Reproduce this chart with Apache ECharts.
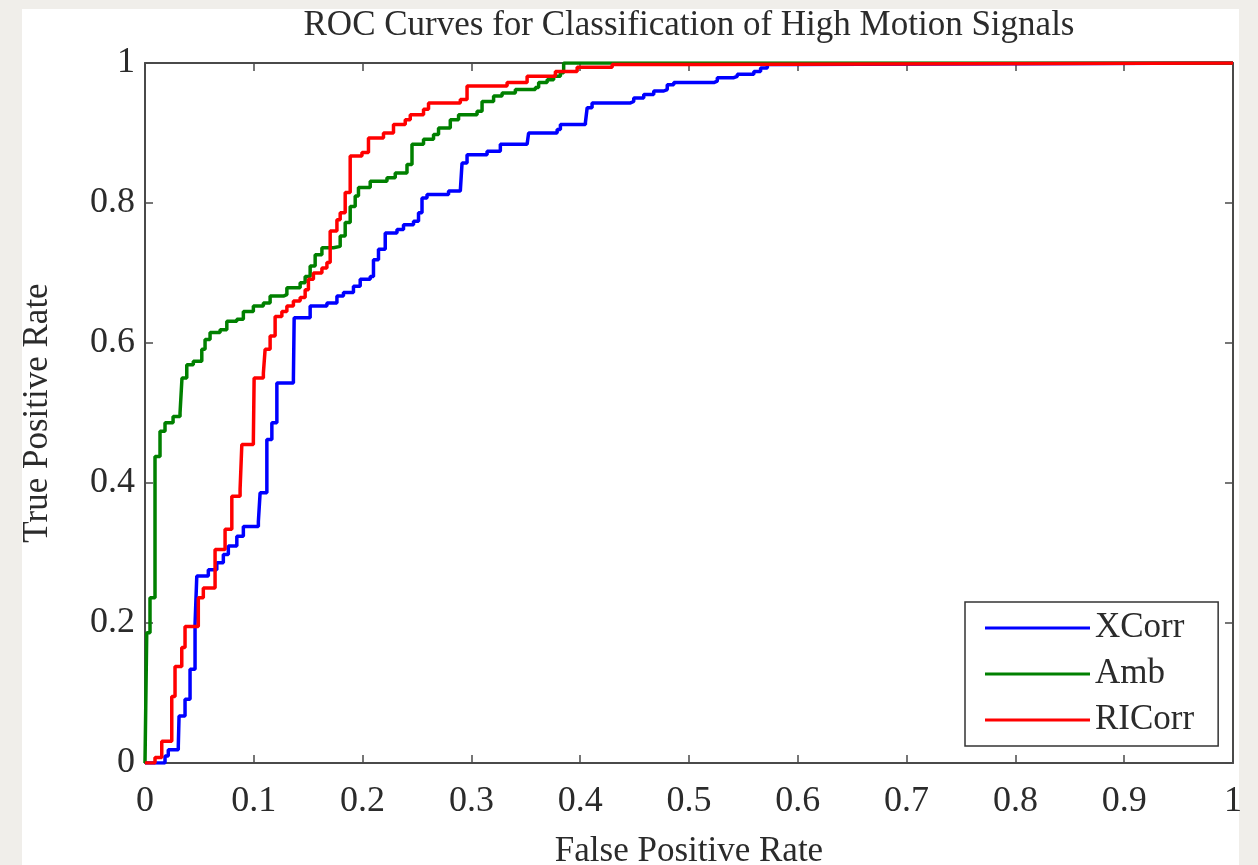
<!DOCTYPE html>
<html>
<head>
<meta charset="utf-8">
<script src="https://cdn.jsdelivr.net/npm/echarts@6/dist/echarts.min.js"></script>
<style>
html,body{margin:0;padding:0;background:#f0eeea;overflow:hidden;}
#chart{width:1258px;height:865px;}
</style>
</head>
<body>
<div id="chart"></div>
<script>
// ---- data ----
const titleText = 'ROC Curves for Classification of High Motion Signals';
const xName = 'False Positive Rate';
const yName = 'True Positive Rate';
const seriesNames = ['XCorr', 'Amb', 'RICorr'];

const xcorrFPR = [0, 0.0092, 0.0184, 0.0214, 0.0306, 0.0313, 0.0368, 0.0414, 0.046, 0.0476, 0.0582, 0.066, 0.072, 0.0766, 0.0844, 0.0904, 0.1042, 0.1058, 0.112, 0.1166, 0.1212, 0.1364, 0.1371, 0.1518, 0.1672, 0.1764, 0.1824, 0.1916, 0.1978, 0.207, 0.21, 0.2146, 0.2208, 0.2316, 0.2376, 0.2468, 0.2514, 0.2546, 0.2592, 0.279, 0.2898, 0.2914, 0.296, 0.3144, 0.3266, 0.3512, 0.3526, 0.3788, 0.3818, 0.4048, 0.4064, 0.4109, 0.4462, 0.4492, 0.4584, 0.4676, 0.4768, 0.48, 0.486, 0.5228, 0.526, 0.5412, 0.5444, 0.5596, 0.5658, 0.572, 0.5904, 1];
const xcorrTPR = [0, 0, 0.010, 0.019, 0.024, 0.067, 0.091, 0.134, 0.198, 0.267, 0.276, 0.286, 0.298, 0.310, 0.324, 0.338, 0.345, 0.386, 0.462, 0.486, 0.543, 0.550, 0.636, 0.653, 0.657, 0.667, 0.672, 0.681, 0.691, 0.695, 0.719, 0.734, 0.757, 0.762, 0.769, 0.774, 0.786, 0.807, 0.812, 0.817, 0.819, 0.857, 0.869, 0.874, 0.884, 0.886, 0.900, 0.905, 0.912, 0.915, 0.936, 0.943, 0.945, 0.950, 0.955, 0.960, 0.962, 0.969, 0.972, 0.974, 0.979, 0.981, 0.984, 0.988, 0.993, 0.998, 1, 1];

const ambFPR = [0, 0.0016, 0.0046, 0.0092, 0.0138, 0.0184, 0.0258, 0.0322, 0.034, 0.0384, 0.0444, 0.0522, 0.0552, 0.0598, 0.069, 0.0752, 0.0844, 0.0904, 0.0996, 0.1088, 0.115, 0.1272, 0.1304, 0.1426, 0.1472, 0.1518, 0.1564, 0.1626, 0.1732, 0.1794, 0.184, 0.1886, 0.1932, 0.1962, 0.207, 0.2224, 0.23, 0.2408, 0.2454, 0.256, 0.2652, 0.2698, 0.2806, 0.2882, 0.3052, 0.3098, 0.3204, 0.3282, 0.3404, 0.3588, 0.3618, 0.3696, 0.3756, 0.3818, 0.3848, 1];
const ambTPR = [0, 0.186, 0.236, 0.438, 0.474, 0.486, 0.495, 0.500, 0.550, 0.569, 0.574, 0.591, 0.605, 0.615, 0.619, 0.631, 0.634, 0.645, 0.653, 0.657, 0.667, 0.669, 0.679, 0.686, 0.695, 0.710, 0.726, 0.736, 0.738, 0.753, 0.772, 0.795, 0.810, 0.822, 0.831, 0.836, 0.843, 0.855, 0.884, 0.891, 0.898, 0.907, 0.919, 0.926, 0.931, 0.945, 0.953, 0.957, 0.962, 0.965, 0.972, 0.976, 0.981, 0.986, 1, 1];

const ricorrFPR = [0, 0.0092, 0.0154, 0.0246, 0.0276, 0.0338, 0.0368, 0.049, 0.0536, 0.0644, 0.0736, 0.0798, 0.0874, 0.089, 0.0996, 0.1003, 0.1088, 0.1104, 0.115, 0.1196, 0.1258, 0.1304, 0.1364, 0.1426, 0.1472, 0.1502, 0.1548, 0.1626, 0.1672, 0.1702, 0.1764, 0.1794, 0.184, 0.1886, 0.1994, 0.2054, 0.2192, 0.2284, 0.2392, 0.2438, 0.256, 0.2606, 0.2898, 0.296, 0.3328, 0.3512, 0.3772, 0.3972, 0.4294, 0.5106, 1];
const ricorrTPR = [0, 0.008, 0.031, 0.095, 0.138, 0.165, 0.195, 0.236, 0.250, 0.305, 0.334, 0.381, 0.391, 0.455, 0.462, 0.550, 0.557, 0.591, 0.610, 0.638, 0.645, 0.653, 0.660, 0.665, 0.676, 0.691, 0.700, 0.707, 0.715, 0.760, 0.776, 0.786, 0.815, 0.867, 0.872, 0.893, 0.900, 0.912, 0.919, 0.926, 0.934, 0.943, 0.948, 0.967, 0.972, 0.981, 0.988, 0.994, 0.998, 1, 1];

const xTicks = ['0', '0.1', '0.2', '0.3', '0.4', '0.5', '0.6', '0.7', '0.8', '0.9', '1'];
const yTicks = ['0', '0.2', '0.4', '0.6', '0.8', '1'];

// ---- build ----
function zip(a, b) { return a.map((v, i) => [v, b[i]]); }
const FONT = '"Liberation Serif", "DejaVu Serif", serif';
const TXT = '#2b2b2b';
const AX = '#4a4a4a';
const colors = ['#0000ff', '#008000', '#ff0000'];
const datasets = [zip(xcorrFPR, xcorrTPR), zip(ambFPR, ambTPR), zip(ricorrFPR, ricorrTPR)];

const chart = echarts.init(document.getElementById('chart'), null, {renderer: 'canvas', width: 1258, height: 865});

const axisCommon = {
  min: 0, max: 1,
  axisLine: {show: true, onZero: false, lineStyle: {color: AX, width: 2}},
  axisTick: {show: true, inside: true, length: 8, lineStyle: {color: AX, width: 1.5}},
  splitLine: {show: false},
};

chart.setOption({
  backgroundColor: '#f0eeea',
  animation: false,
  graphic: [
    {type: 'rect', left: 22, top: 9, z: -10, silent: true,
     shape: {width: 1217, height: 860}, style: {fill: '#ffffff'}},
    {type: 'text', x: 689, y: 8, z: 10, silent: true,
     style: {text: titleText, font: '35px ' + FONT, fill: TXT, textAlign: 'center', textVerticalAlign: 'top'}}
  ],
  grid: {left: 145, width: 1088, top: 63, height: 700, containLabel: false, outerBoundsMode: 'none'},
  legend: {
    data: seriesNames,
    orient: 'vertical',
    left: 965, top: 602,
    backgroundColor: '#ffffff',
    borderColor: '#333333', borderWidth: 1.5,
    padding: [8, 24, 8, 20],
    itemGap: 10,
    itemWidth: 105, itemHeight: 3,
    icon: 'rect',
    textStyle: {fontFamily: FONT, fontSize: 35, color: TXT, lineHeight: 36},
  },
  xAxis: [
    Object.assign({}, axisCommon, {
      type: 'value', position: 'bottom', interval: 0.1,
      name: xName, nameLocation: 'middle', nameGap: 71,
      nameTextStyle: {fontFamily: FONT, fontSize: 35, color: TXT},
      axisLabel: {show: true, margin: 21, fontFamily: FONT, fontSize: 36, color: TXT,
        formatter: (v) => xTicks[Math.round(v * 10)] }
    }),
    Object.assign({}, axisCommon, {
      type: 'value', position: 'top', interval: 0.1, axisLabel: {show: false}
    })
  ],
  yAxis: [
    Object.assign({}, axisCommon, {
      type: 'value', position: 'left', interval: 0.2,
      name: yName, nameLocation: 'middle', nameGap: 90, nameRotate: 90,
      nameTextStyle: {fontFamily: FONT, fontSize: 35, color: TXT},
      axisLabel: {show: true, margin: 10, fontFamily: FONT, fontSize: 36, color: TXT,
        formatter: (v) => yTicks[Math.round(v * 5)] }
    }),
    Object.assign({}, axisCommon, {
      type: 'value', position: 'right', interval: 0.2, axisLabel: {show: false}
    })
  ],
  series: seriesNames.map((n, i) => ({
    name: n, type: 'line', step: 'end',
    xAxisIndex: 0, yAxisIndex: 0,
    data: datasets[i],
    showSymbol: false, symbol: 'none',
    color: colors[i],
    lineStyle: {color: colors[i], width: 3.5},
    clip: true, z: 2 + i
  }))
});
</script>
</body>
</html>
